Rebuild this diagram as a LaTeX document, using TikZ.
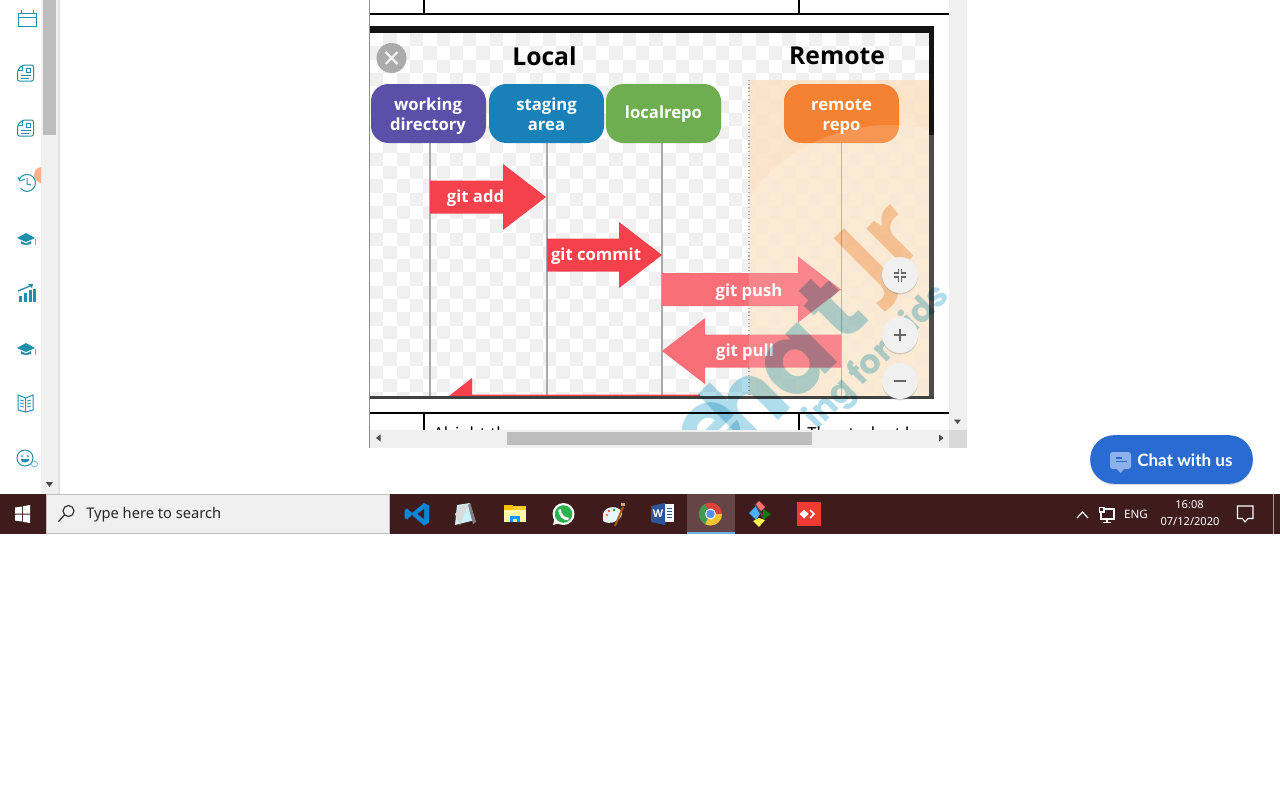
\documentclass[tikz,border=0pt]{standalone}
\usepackage{fontspec}
\setmainfont{Open Sans}
\newfontfamily\uifont{Noto Sans}
\newfontfamily\chatfont{Lato}
\newfontfamily\wmfont{Poppins}
\usetikzlibrary{calc,shadows}
\definecolor{teal1}{HTML}{1F8FAB}
\definecolor{barbg}{HTML}{F0F0F0}
\definecolor{thumb}{HTML}{BDBDBD}
\definecolor{taskbar}{HTML}{3F1C1C}
\definecolor{taskhi}{HTML}{654545}
\definecolor{taskline}{HTML}{6AB0E8}
\definecolor{checker}{HTML}{F0F0F0}
\definecolor{remotebg}{HTML}{FBE3C6}
\definecolor{lifeline}{HTML}{A9A9A9}
\definecolor{redA}{HTML}{F5414B}
\definecolor{redB}{HTML}{F96F78}
\definecolor{wmblue}{HTML}{B0DDEB}
\definecolor{wmorange}{HTML}{F9D2B0}
\definecolor{boxwd}{HTML}{5B4FA8}
\definecolor{boxsa}{HTML}{1A80B8}
\definecolor{boxlr}{HTML}{6FAE50}
\definecolor{boxrr}{HTML}{F58232}
\definecolor{chatblue}{HTML}{296BD1}
\definecolor{chatlight}{HTML}{8DB0EC}
\definecolor{anyred}{HTML}{EF3B33}
\definecolor{vsblue}{HTML}{0A84D6}
\definecolor{wordblue}{HTML}{2B579A}
\definecolor{wagreen}{HTML}{2BB24C}
\definecolor{chromered}{HTML}{DB4437}
\definecolor{chromeyellow}{HTML}{F4C430}
\definecolor{chromegreen}{HTML}{3E9B4F}
\definecolor{chromeblue}{HTML}{5A8FE8}
\tikzset{
  repobox/.style={rounded corners=13pt,minimum width=86.25pt,minimum height=44.25pt,inner sep=0pt,text=white,align=center,font=\fontsize{12.5}{15.3}\selectfont\bfseries},
  boxtext/.style={text=white,align=center,inner sep=0pt,font=\fontsize{12.5}{15.3}\selectfont\bfseries},
  lifelinestyle/.style={draw=lifeline,line width=1.5pt},
  arrowlabel/.style={text=white,font=\fontsize{12.5}{15}\selectfont\bfseries,inner sep=0pt},
  heading/.style={text=black,font=\fontsize{18.5}{22}\selectfont\bfseries,inner sep=0pt},
  zoombtn/.style={circle,fill=barbg,minimum size=27pt,inner sep=0pt,drop shadow={opacity=.35,shadow xshift=0pt,shadow yshift=-1pt}},
  zoomicon/.style={draw=black!60,line width=.9pt},
  icon/.style={draw=teal1,line width=.75pt,fill=none},
  tablerule/.style={draw=black,line width=1.5pt},
  traytext/.style={text=white,inner sep=0pt,font=\uifont\fontsize{8.3}{10}\selectfont},
  scrollarrow/.style={fill=black!70,draw=none},
  tray/.style={draw=white,line width=.8pt,fill=none},
  wmbig/.style={rotate=45,text=wmblue,inner sep=0pt,font=\wmfont\fontsize{76}{84}\selectfont\bfseries},
  wmjr/.style={rotate=45,text=wmorange,inner sep=0pt,font=\fontsize{72}{80}\selectfont\bfseries},
  wmsmall/.style={rotate=45,text=wmblue,inner sep=0pt,font=\wmfont\fontsize{25}{29}\selectfont\bfseries}
}
\newcommand{\flowarrow}[4]{% from, to, direction sign, colour
  \fill[#4] ($(#1)+(0,-16.5)$) -- ($(#2)+(-43*#3,-16.5)$) -- ($(#2)+(-43*#3,-33)$) -- (#2)
    -- ($(#2)+(-43*#3,33)$) -- ($(#2)+(-43*#3,16.5)$) -- ($(#1)+(0,16.5)$) -- cycle;}
\newcommand{\docicon}[2]{\begin{scope}[shift={(#1,#2)}]
  \draw[icon,rounded corners=1.5pt] (-3,-8) -- (8,-8) -- (8,8) -- (-8,8) -- (-8,-3) -- cycle;
  \draw[icon] (-8,-3) -- (-3,-3) -- (-3,-8);
  \draw[icon] (1,-5) rectangle (5,-1); \draw[icon] (-5,2) -- (5,2); \draw[icon] (-5,5) -- (3,5);
\end{scope}}
\newcommand{\capicon}[2]{\begin{scope}[shift={(#1,#2)}]
  \fill[teal1] (-9,0) -- (0,-5) -- (9,0) -- (0,4) -- cycle;
  \fill[teal1] (-5,3) -- (0,5.5) -- (5,3) -- (5,6) -- (0,7) -- (-5,6) -- cycle;
  \fill[teal1!70] (9,1) rectangle (10,7);
\end{scope}}
\begin{document}
\begin{tikzpicture}[x=0.75pt,y=-0.75pt]
\useasboundingbox (0,0) rectangle (1280,800);
\fill[white] (0,0) rectangle (1280,800);

% left sidebar
\fill[barbg] (41,0) rectangle (58,494);
\fill[black!12] (58,0) rectangle (60,494);
\fill[thumb] (43,0) rectangle (56,135);
\fill[scrollarrow] (46,482) -- (53,482) -- (49.5,487) -- cycle;
% calendar
\draw[icon] (18,13) rectangle (36,26); \draw[icon] (18,17) -- (36,17);
\draw[icon] (21,10) -- (21,14); \draw[icon] (33,10) -- (33,14);
\docicon{25.5}{73}
\docicon{25.5}{128}
% history
\begin{scope}
\clip (0,160) rectangle (41,200);
\fill[orange!60!red!45] (42,175) circle (8);
\end{scope}
\draw[icon] (19,180) arc (200:500:8.5);
\draw[icon] (18,177) -- (20,181) -- (25,179);
\draw[icon] (27,178) -- (27,184) -- (31,185);
\capicon{26}{238}
% chart
\fill[teal1] (19,296) rectangle (22,302); \fill[teal1] (24,293) rectangle (27,302);
\fill[teal1] (29,290) rectangle (31.5,302); \fill[teal1] (33,289) rectangle (36,302);
\draw[icon,line width=1pt] (18,291) -- (30,286); \fill[teal1] (33,284) -- (28,284) -- (32,288) -- cycle;
\capicon{26}{348}
% book
\draw[icon] (25.5,398) -- (18,395) -- (18,410) -- (25.5,412) -- (33,410) -- (33,395) -- cycle;
\draw[icon] (25.5,398) -- (25.5,412);
\foreach \yy in {400,403,406}{\draw[icon,line width=.6pt] (20,\yy) -- (24,\yy+1); \draw[icon,line width=.6pt] (27,\yy+1) -- (31,\yy);}
% smile
\draw[icon] (25,458) circle (8);
\fill[teal1] (22,456) circle (1); \fill[teal1] (28,456) circle (1);
\fill[teal1] (29.5,459) arc (0:180:4.5 and 3.5) -- cycle;
\draw[icon,draw=teal1!60,line width=.6pt] (34.5,464) circle (3);

% content: image
\begin{scope}
\clip (370,33) rectangle (929,396);
\fill[white] (370,33) rectangle (929,396);
\foreach \cx in {0,...,42}{\foreach \cy in {0,...,27}{
  \pgfmathparse{int(mod(\cx+\cy,2))}
  \ifnum\pgfmathresult=1
    \fill[checker] ({370+\cx*13.3},{33+\cy*13.3}) rectangle ++(13.3,13.3);
  \fi}}
\fill[remotebg,opacity=.88] (749,80) rectangle (929,396);
\draw[lifeline,dotted,line width=.8pt] (749,80) -- (749,396);
\end{scope}

% headings
\node[heading] (localhead) at (544.5,56) {Local};
\node[heading] (remotehead) at (837,56) {Remote};

% repo boxes
\node[repobox,fill=boxwd] (wd) at (428.5,113.5) {};
\node[repobox,fill=boxsa] (sa) at (546.5,113.5) {};
\node[repobox,fill=boxlr] (lr) at (663.5,113.5) {};
\node[repobox,fill=boxrr] (rr) at (841.5,113.5) {};
\node[boxtext] (wdtext) at (428,116) {working\\directory};
\node[boxtext] (satext) at (546.5,114) {staging\\area};
\node[boxtext] (lrtext) at (663.5,114.5) {localrepo};
\node[boxtext] (rrtext) at (841.5,117) {remote\\repo};

% lifelines
\coordinate (wdend) at (430,396);
\coordinate (saend) at (546.5,396);
\coordinate (lrend) at (662,396);
\coordinate (rrend) at (841.5,396);
\draw[lifelinestyle] (wd.south -| wdend) -- (wdend);
\draw[lifelinestyle] (sa.south -| saend) -- (saend);
\draw[lifelinestyle] (lr.south -| lrend) -- (lrend);
\draw[lifelinestyle,line width=1.2pt] (rr.south -| rrend) -- (rrend);

% arrows
\coordinate (addA) at (430,197); \coordinate (addB) at (546,197);
\coordinate (comA) at (547,255); \coordinate (comB) at (662,255);
\coordinate (pushA) at (662,289.5); \coordinate (pushB) at (841,289.5);
\coordinate (pullA) at (841,351); \coordinate (pullB) at (662,351);
\flowarrow{addA}{addB}{1}{redA}
\flowarrow{comA}{comB}{1}{redA}
\flowarrow{pushA}{pushB}{1}{redB}
\flowarrow{pullA}{pullB}{-1}{redB}
\begin{scope}
\clip (370,33) rectangle (929,396.5);
\fill[redA] (449,396) -- (472,378) -- (472,394.5) -- (700,394.5) -- (700,398) -- (449,398) -- cycle;
\end{scope}
\node[arrowlabel] (addlabel) at (475.5,198) {git add};
\node[arrowlabel] (comlabel) at (596,256) {git commit};
\node[arrowlabel] (pushlabel) at (749,292) {git push};
\node[arrowlabel] (pulllabel) at (745,352) {git pull};

% light arc over the remote area
\begin{scope}
\clip (749,80) rectangle (929,396);
\fill[white,opacity=.16] (890,300) circle (175);
\end{scope}

% image frame
\fill[black!92] (370,26) rectangle (934,33);
\fill[black!92] (929,26) rectangle (934,135);
\fill[black!70] (929,135) rectangle (934,398);
\fill[black!75] (370,396) rectangle (934,398.5);

% close button
\node[circle,fill=black!33,minimum size=22.5pt,inner sep=0pt] (closebtn) at (391.5,58) {};
\draw[white,line width=1.6pt,opacity=.85] ($(closebtn)+(-6,-6)$) -- ($(closebtn)+(6,6)$) ($(closebtn)+(-6,6)$) -- ($(closebtn)+(6,-6)$);

% table rules
\draw[tablerule] (370,13.5) -- (949,13.5);
\draw[tablerule] (424,0) -- (424,13);
\draw[tablerule] (799,0) -- (799,13);
\draw[tablerule] (370,412.5) -- (949,412.5);
\draw[tablerule] (424,413) -- (424,430);
\draw[tablerule] (799,413) -- (799,430);

% clipped table text
\begin{scope}
\clip (370,414) rectangle (949,430);
\node[anchor=base west,inner sep=0pt,text=black,font=\uifont\fontsize{12.5}{15}\selectfont] (celltextA) at (433,439) {Alright th};
\node[anchor=base west,inner sep=0pt,text=black,font=\uifont\fontsize{12.5}{15}\selectfont] (celltextB) at (807,439) {The student h};
\end{scope}

% watermark
\begin{scope}[blend mode=multiply]
\clip (370,34) rectangle (949,430);
\node[wmbig] (wme) at (712,432) {e};
\node[wmbig] (wmh) at (744,402) {h};
\node[wmbig] (wma) at (798,362) {a};
\node[wmbig] (wmt) at (832,308) {t};
\node[wmjr] (wmjrtext) at (886,250) {Jr};
\node[wmsmall] (wmkids) at (878,358) {ing for kids};
\end{scope}

% zoom buttons
\node[zoombtn] (zfit) at (900,275) {};
\node[zoombtn] (zplus) at (900,335) {};
\node[zoombtn] (zminus) at (900,381) {};
\begin{scope}[shift={(zfit)}]
\draw[zoomicon] (-6,-2) -- (-1.5,-2) -- (-1.5,-6.5);
\draw[zoomicon] (6,-2) -- (1.5,-2) -- (1.5,-6.5);
\draw[zoomicon] (-6,2) -- (-1.5,2) -- (-1.5,6.5);
\draw[zoomicon] (6,2) -- (1.5,2) -- (1.5,6.5);
\end{scope}
\draw[zoomicon] ($(zplus)+(-6,0)$) -- ($(zplus)+(6,0)$) ($(zplus)+(0,-6)$) -- ($(zplus)+(0,6)$);
\draw[zoomicon] ($(zminus)+(-6,0)$) -- ($(zminus)+(6,0)$);

% panel scrollbars
\fill[black!45] (368.5,0) rectangle (370,448);
\fill[barbg] (949,0) rectangle (967,430);
\fill[barbg] (370,430) rectangle (949,448);
\fill[black!15] (949,430) rectangle (967,448);
\fill[thumb] (507,432) rectangle (812,445);
\fill[scrollarrow] (954,419.5) -- (961,419.5) -- (957.5,424) -- cycle;
\fill[scrollarrow] (380.5,434.5) -- (380.5,441.5) -- (376,438) -- cycle;
\fill[scrollarrow] (939,434.5) -- (939,441.5) -- (943.5,438) -- cycle;

% chat button
\node[rounded corners=18pt,fill=chatblue,minimum width=122pt,minimum height=36.5pt,inner sep=0pt,drop shadow={opacity=.25,shadow xshift=0pt,shadow yshift=-1pt}] (chatbtn) at (1171.5,459.5) {};
\node[anchor=west,inner sep=0pt,text=white,font=\chatfont\fontsize{12.8}{16}\selectfont\bfseries] (chatlabel) at (1137,460.5) {Chat with us};
\fill[rounded corners=2pt,chatlight] (1110,452) rectangle (1131,469);
\fill[chatlight] (1117,469) -- (1124,469) -- (1120.5,473) -- cycle;
\draw[draw=chatblue,line width=.8pt] (1116,458) -- (1122,458) (1116,461.5) -- (1127,461.5);

% taskbar
\fill[taskbar] (0,494) rectangle (1280,534);
% start
\fill[white] (15,507.5) -- (22,506.5) -- (22,513.5) -- (15,513.5) -- cycle;
\fill[white] (23,506.2) -- (30,505) -- (30,513.5) -- (23,513.5) -- cycle;
\fill[white] (15,514.5) -- (22,514.5) -- (22,521.5) -- (15,520.5) -- cycle;
\fill[white] (23,514.5) -- (30,514.5) -- (30,523) -- (23,521.8) -- cycle;
% search
\node[draw=black!25,line width=.8pt,fill=barbg,minimum width=257pt,minimum height=29.5pt,inner sep=0pt] (searchbox) at (218,514) {};
\node[anchor=west,inner sep=0pt,text=black!85,font=\uifont\fontsize{11}{13}\selectfont] (searchtext) at (86,515) {Type here to search};
\draw[black!85,line width=.8pt] (68.5,511) circle (5.5);
\draw[black!85,line width=.9pt] (64.5,515) -- (58.5,521.5);
% vs code
\fill[vsblue] (424,503) -- (429,505.5) -- (429,522.5) -- (424,525.5) -- (412,515) -- (407,519.5) -- (404.5,518) -- (404.5,510) -- (407,508.5) -- (412,513) -- cycle;
\fill[taskbar] (424,509) -- (424,519) -- (417.5,514) -- cycle;
% notes
\fill[cyan!20!white] (457,505) -- (470,503) -- (475,520) -- (455,525) -- cycle;
\fill[black!50] (470,503) -- (476,522) -- (473,524) -- (468,505) -- cycle;
\fill[black!15] (455,514) -- (462,505) -- (468,505) -- (460,525) -- cycle;
% folder
\fill[yellow!60!orange!85] (504,506) rectangle (526,522);
\fill[orange!50!yellow] (504,505) rectangle (513,510);
\fill[yellow!35!white] (504,510) rectangle (526,522);
\fill[blue!40!cyan] (510,516) rectangle (520,522);
\fill[yellow!35!white] (513,519) rectangle (517,522);
% whatsapp
\fill[white] (563.5,514) circle (11);
\fill[white] (553,525) -- (555,517) -- (560,523) -- cycle;
\fill[wagreen] (563.5,514) circle (8.8);
\draw[white,line width=2pt] (559.5,509.5) .. controls (560,515) and (563,519) .. (568.5,519);
% palette
\fill[black!8!cyan!10!white] (603,514) .. controls (605,505) and (620,505) .. (622,513) .. controls (622,520) and (610,526) .. (603,521) -- cycle;
\fill[red!70] (609,511) circle (1.4); \fill[green!60!black] (614,510) circle (1.4); \fill[orange] (607,515) circle (1.4);
\draw[orange!70!black,line width=1.4pt] (615,526) -- (623,507);
\fill[brown!70!white] (621,506) rectangle (625,503);
% word
\fill[white] (665,504) rectangle (674,522);
\foreach \yy in {508,511,514,517}{\draw[wordblue,line width=.7pt] (667,\yy) -- (672,\yy);}
\fill[wordblue] (651,506) -- (665,503) -- (665,525) -- (651,522) -- cycle;
\node[inner sep=0pt,text=white,font=\fontsize{8}{9}\selectfont\bfseries] (wordw) at (658,514) {W};
% chrome highlighted
\fill[taskhi] (687,494) rectangle (735,532);
\fill[taskline] (687,532) rectangle (735,534);
\fill[chromered] (710.5,514) circle (11.5);
\fill[chromeyellow] (710.5,514) -- (722,514) arc (0:120:11.5) -- cycle;
\fill[chromegreen] (710.5,514) -- (704.75,524) arc (120:240:11.5) -- cycle;
\fill[white] (710.5,514) circle (5.5);
\fill[chromeblue] (710.5,514) circle (4.2);
% git gui
\fill[red!55!white] (759,501) -- (765,507) -- (761,511) -- (755,505) -- cycle;
\fill[blue!45!cyan!70] (749,513) -- (756,506) -- (760,514) -- (756,520) -- cycle;
\fill[green!50!black] (763,509) -- (771,514) -- (763,520) -- cycle;
\fill[yellow!70!white] (759,518) -- (765,520) -- (759,527) -- (753,521) -- cycle;
\draw[black!70,line width=1.2pt] (755,504) -- (764,519);
% anydesk
\fill[anyred] (797,502) rectangle (821,526);
\fill[white] (804,509.5) -- (808.5,514) -- (804,518.5) -- (799.5,514) -- cycle;
\draw[white,line width=1.2pt] (810,510) -- (814,514) -- (810,518);
% tray
\draw[tray,line width=.9pt] (1077,518) -- (1082.5,512) -- (1088,518);
\draw[tray] (1101,509) rectangle (1114,519); \draw[tray] (1107,519) -- (1107,522); \draw[tray] (1103,522.5) -- (1111,522.5);
\draw[tray,fill=taskbar] (1099.5,507.5) rectangle (1104,512);
\node[traytext,font=\uifont\fontsize{8.7}{10}\selectfont] (eng) at (1136,514) {ENG};
\node[traytext] (clock) at (1189.5,505) {16:08};
\node[traytext] (datelabel) at (1190,522) {07/12/2020};
\draw[tray] (1237.5,506) -- (1253,506) -- (1253,518.5) -- (1248,518.5) -- (1245,522) -- (1242.5,518.5) -- (1237.5,518.5) -- cycle;
\fill[white!55!taskbar] (1273,494) rectangle (1274,534);
\end{tikzpicture}
\end{document}
